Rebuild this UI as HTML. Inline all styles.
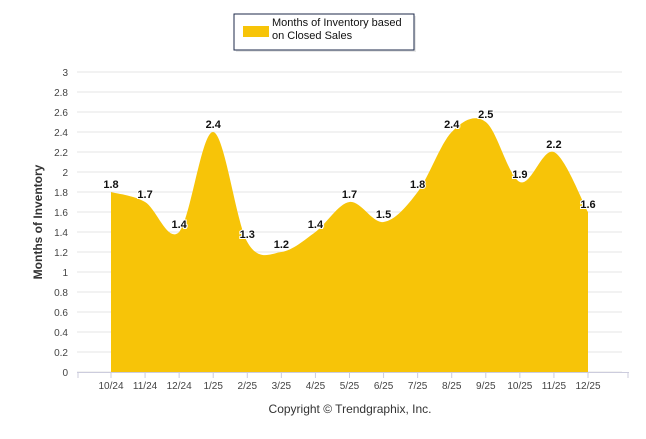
<!DOCTYPE html>
<html><head><meta charset="utf-8"><style>
body{margin:0;background:#fff;font-family:"Liberation Sans",Arial,sans-serif}
</style></head><body>
<svg width="646" height="434" xmlns="http://www.w3.org/2000/svg">
<g>
<rect x="236" y="16" width="180" height="36" fill="#e8e8e8"/>
<rect x="234" y="14" width="180" height="36" fill="#fff" stroke="#1d2a4a" stroke-width="1"/>
<rect x="243" y="26" width="26" height="11" fill="#f7c408"/>
<text x="272" y="26" font-size="11" fill="#111">Months of Inventory based</text>
<text x="272" y="39" font-size="11" fill="#111">on Closed Sales</text>
</g>
<g id="grid"></g>
<g id="area"></g>
<g id="xaxis"></g>
<g id="labels"></g>
<text x="0" y="0" transform="translate(42,222) rotate(-90)" text-anchor="middle" font-size="12" font-weight="bold" fill="#333">Months of Inventory</text>
<text x="350" y="413" text-anchor="middle" font-size="12" fill="#333">Copyright © Trendgraphix, Inc.</text>
</svg>
<script>
const categories=["10/24","11/24","12/24","1/25","2/25","3/25","4/25","5/25","6/25","7/25","8/25","9/25","10/25","11/25","12/25"];
const values=[1.8,1.7,1.4,2.4,1.3,1.2,1.4,1.7,1.5,1.8,2.4,2.5,1.9,2.2,1.6];
const yTicks=[0,0.2,0.4,0.6,0.8,1,1.2,1.4,1.6,1.8,2,2.2,2.4,2.6,2.8,3];
const NS="http://www.w3.org/2000/svg";
const L=77,R=622,T=72,B=372,yMax=3;
const xs=i=>111+i*((588-111)/(categories.length-1));
const ys=v=>B-(v/yMax)*(B-T);
function mk(tag,attrs,parent,txt){const e=document.createElementNS(NS,tag);for(const k in attrs)e.setAttribute(k,attrs[k]);if(txt!==undefined)e.textContent=txt;parent.appendChild(e);return e;}
const grid=document.getElementById('grid');
yTicks.forEach(t=>{
 const l=mk('line',{x1:L,x2:R,y1:ys(t),y2:ys(t),stroke:'#e6e6e6','stroke-width':1},grid);
 
 
 const tx=mk('text',{x:68,y:ys(t)+4,'text-anchor':'end','font-size':10,fill:'#444'},grid,String(t));
 
 
});
const xa=document.getElementById('xaxis');
mk('line',{x1:L,x2:R+7,y1:B+0.5,y2:B+0.5,stroke:'#ccd',"stroke-width":1},xa);
mk('line',{x1:L+1,x2:L+1,y1:B,y2:B+6,stroke:'#ccd'},xa);
mk('line',{x1:R+6,x2:R+6,y1:B,y2:B+6,stroke:'#ccd'},xa);
categories.forEach((c,i)=>{
 mk('line',{x1:xs(i),x2:xs(i),y1:B,y2:B+6,stroke:'#ccd'},xa);
 const t=mk('text',{x:xs(i),y:389,'text-anchor':'middle','font-size':10,fill:'#444'},xa,c);
 
 
});
const pts=values.map((v,i)=>[xs(i),ys(v)]);
let d=`M${pts[0][0]},${B}L${pts[0][0]},${pts[0][1]}`;
for(let i=0;i<pts.length-1;i++){
 const p0=pts[Math.max(0,i-1)],p1=pts[i],p2=pts[i+1],p3=pts[Math.min(pts.length-1,i+2)];
 const k=1/6;
 const c1=[p1[0]+(p2[0]-p0[0])*k,p1[1]+(p2[1]-p0[1])*k];
 const c2=[p2[0]-(p3[0]-p1[0])*k,p2[1]-(p3[1]-p1[1])*k];
 d+=`C${c1[0]},${c1[1]} ${c2[0]},${c2[1]} ${p2[0]},${p2[1]}`;
}
d+=`L${pts[pts.length-1][0]},${B}Z`;
const a=mk('path',{d:d,fill:'#f7c408'},document.getElementById('area'));


const lb=document.getElementById('labels');
values.forEach((v,i)=>{
 const t=mk('text',{x:xs(i),y:ys(v)-4,'text-anchor':'middle','font-size':11,'font-weight':'bold',fill:'#111',stroke:'#fff','stroke-width':2,'paint-order':'stroke'},lb,v.toFixed(1));
 
 
});
</script>
</body></html>
